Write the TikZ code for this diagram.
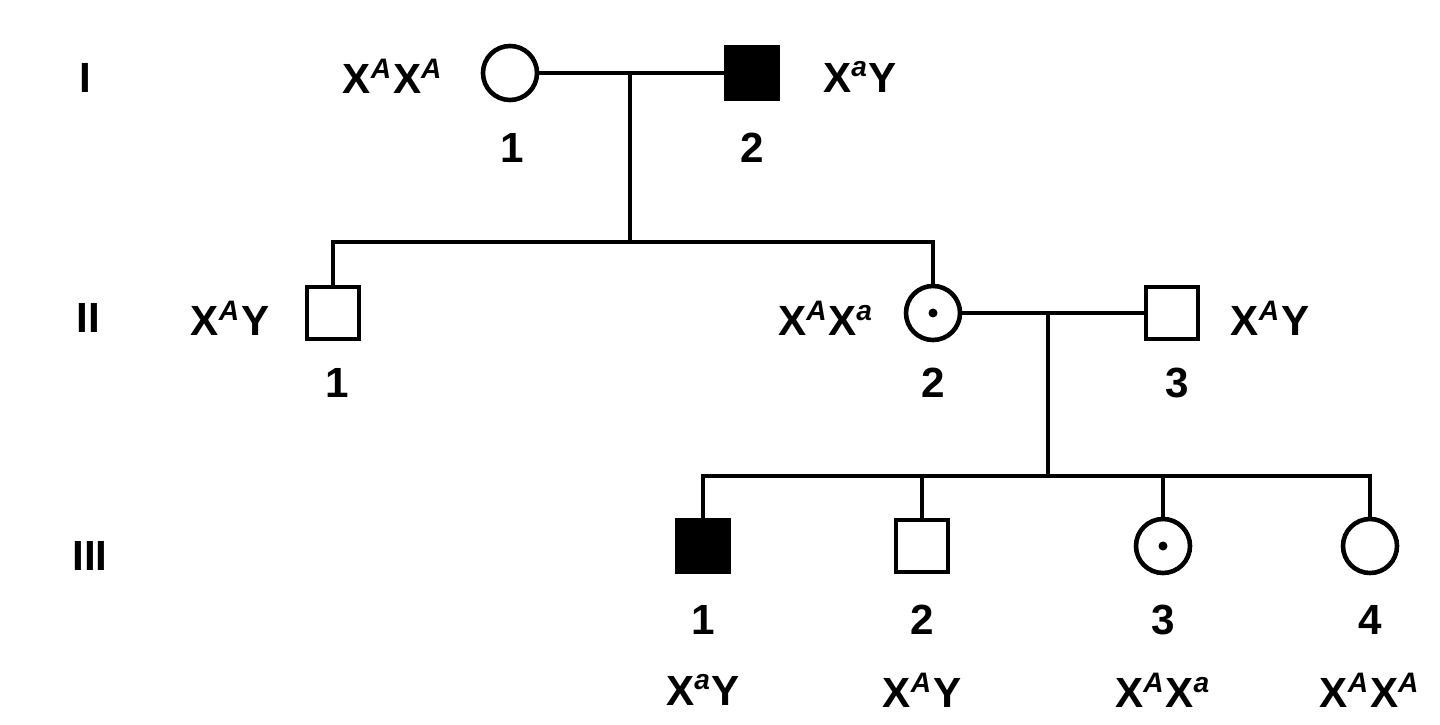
\documentclass[tikz,border=0pt]{standalone}
\usepackage{fontspec}
\setmainfont{Liberation Sans}
\usetikzlibrary{positioning}
\begin{document}
\begin{tikzpicture}[x=0.01cm, y=-0.01cm, line width=1.3pt,
    female/.style={circle, draw, minimum size=0.54cm, inner sep=0pt},
    male/.style={rectangle, draw, minimum size=0.52cm, inner sep=0pt},
    affected/.style={fill=black},
    carrier/.style={path picture={\fill (path picture bounding box.center) circle (0.045cm);}},
    lbl/.style={font=\bfseries\fontsize{12}{14}\selectfont, inner sep=0pt}]
  \useasboundingbox (0,0) rectangle (1440,725);
  % generation I
  \node[female] (i1) at (510,73) {};
  \node[male, affected] (i2) at (752,73) {};
  \node[lbl] at (85,78) {I};
  \node[lbl] at (393,76) {X\textsuperscript{\itshape A}X\textsuperscript{\itshape A}};
  \node[lbl] at (860,77) {X\textsuperscript{\itshape a}Y};
  \node[lbl] at (512,148) {1};
  \node[lbl] at (752,148) {2};
  \coordinate (m1) at (630,73);
  \draw (i1) -- (i2);
  % generation II
  \node[female, carrier] (ii2) at (933,313) {};
  \node[male] (ii1) at (333,313) {};
  \node[male] (ii3) at (1172,313) {};
  \node[lbl] at (88,318) {II};
  \node[lbl] at (230,318) {X\textsuperscript{\itshape A}Y};
  \node[lbl] at (826,318) {X\textsuperscript{\itshape A}X\textsuperscript{\itshape a}};
  \node[lbl] at (1270,318) {X\textsuperscript{\itshape A}Y};
  \node[lbl] at (337,383) {1};
  \node[lbl] at (933,383) {2};
  \node[lbl] at (1177,383) {3};
  \coordinate (s1) at (630,242);
  \draw (m1) -- (s1);
  \draw (ii1.north) |- (s1) -| (ii2.north);
  \coordinate (m2) at (1048,313);
  \draw (ii2) -- (ii3);
  % generation III
  \node[male, affected] (iii1) at (703,546) {};
  \node[male] (iii2) at (922,546) {};
  \node[female, carrier] (iii3) at (1163,546) {};
  \node[female] (iii4) at (1370,546) {};
  \node[lbl] at (90,556) {III};
  \coordinate (s2) at (1048,476);
  \draw (m2) -- (s2);
  \draw (iii1.north) |- (s2) -| (iii4.north);
  \draw (iii2.north) -- (iii2.north |- s2);
  \draw (iii3.north) -- (iii3.north |- s2);
  \foreach \n/\g [count=\i] in {iii1/{X\textsuperscript{\itshape a}Y},
      iii2/{X\textsuperscript{\itshape A}Y},
      iii3/{X\textsuperscript{\itshape A}X\textsuperscript{\itshape a}},
      iii4/{X\textsuperscript{\itshape A}X\textsuperscript{\itshape A}}} {
    \node[lbl] at (\n |- 0,620) {\i};
    \node[lbl] at (\n |- 0,690) {\g};
  }
\end{tikzpicture}
\end{document}
